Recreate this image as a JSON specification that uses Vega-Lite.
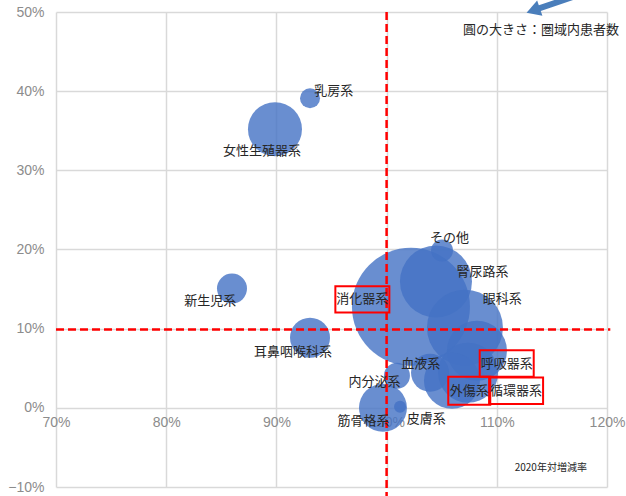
{
  "$schema": "https://vega.github.io/schema/vega-lite/v6.json",
  "width": 551,
  "height": 475,
  "autosize": {"type": "none"},
  "padding": {"left": 56, "top": 12, "right": 19, "bottom": 9},
  "background": "white",
  "config": {
    "view": {"stroke": null},
    "axis": {
      "grid": true,
      "gridColor": "#d9d9d9",
      "gridWidth": 1.5,
      "domain": false,
      "ticks": false,
      "labelFlush": false,
      "labelFont": "Liberation Sans",
      "labelFontSize": 14,
      "labelColor": "#8c8c8c",
      "title": null
    },
    "text": {"font": "Noto Sans CJK JP"}
  },
  "datasets": {
    "bubbles": [
      {"name": "乳房系", "growth": 0.9305, "share": 0.391, "patients": 100, "labelX": 0.952, "labelY": 0.400, "boxed": false},
      {"name": "女性生殖器系", "growth": 0.8987, "share": 0.352, "patients": 729, "labelX": 0.887, "labelY": 0.325, "boxed": false},
      {"name": "新生児系", "growth": 0.8597, "share": 0.1506, "patients": 225, "labelX": 0.840, "labelY": 0.135, "boxed": false},
      {"name": "耳鼻咽喉科系", "growth": 0.9305, "share": 0.0886, "patients": 400, "labelX": 0.915, "labelY": 0.070, "boxed": false},
      {"name": "消化器系", "growth": 1.0221, "share": 0.1278, "patients": 3481, "labelX": 0.978, "labelY": 0.137, "boxed": true},
      {"name": "腎尿路系", "growth": 1.0448, "share": 0.1595, "patients": 1296, "labelX": 1.087, "labelY": 0.172, "boxed": false},
      {"name": "その他", "growth": 1.0503, "share": 0.1987, "patients": 121, "labelX": 1.057, "labelY": 0.214, "boxed": false},
      {"name": "眼科系", "growth": 1.0711, "share": 0.1013, "patients": 1444, "labelX": 1.105, "labelY": 0.138, "boxed": false},
      {"name": "呼吸器系", "growth": 1.082, "share": 0.0722, "patients": 900, "labelX": 1.109, "labelY": 0.056, "boxed": true},
      {"name": "循環器系", "growth": 1.0739, "share": 0.0443, "patients": 900, "labelX": 1.1175, "labelY": 0.0215, "boxed": true},
      {"name": "外傷系", "growth": 1.0593, "share": 0.0342, "patients": 784, "labelX": 1.075, "labelY": 0.0215, "boxed": true},
      {"name": "血液系", "growth": 1.0394, "share": 0.0443, "patients": 361, "labelX": 1.031, "labelY": 0.056, "boxed": false},
      {"name": "内分泌系", "growth": 1.0094, "share": 0.0405, "patients": 169, "labelX": 0.989, "labelY": 0.033, "boxed": false},
      {"name": "筋骨格系", "growth": 0.9967, "share": 0.0, "patients": 576, "labelX": 0.979, "labelY": -0.0165, "boxed": false},
      {"name": "皮膚系", "growth": 1.0122, "share": 0.0013, "patients": 36, "labelX": 1.036, "labelY": -0.014, "boxed": false}
    ],
    "notes": [
      {"text": "圓の大きさ：圏域内患者数", "x": 1.0693, "y": 0.477, "kind": "size"},
      {"text": "2020年対増減率", "x": 1.149, "y": -0.076, "kind": "axis"}
    ],
    "refs": [
      {"x": 1.0, "x2": 1.0, "y": 0.5, "y2": -0.112},
      {"x": 0.7, "x2": 1.203, "y": 0.099, "y2": 0.099}
    ],
    "arrow": [
      {"x": 1.133, "y": 0.502, "x2": 1.171, "y2": 0.520}
    ]
  },
  "layer": [
    {
      "data": {"name": "bubbles"},
      "mark": {"type": "circle", "color": "#4472C4", "opacity": 0.8, "clip": false},
      "encoding": {
        "x": {"field": "growth", "type": "quantitative",
              "scale": {"domain": [0.7, 1.2], "nice": false, "zero": false},
              "axis": {"format": ".0%", "values": [0.7, 0.8, 0.9, 1.0, 1.1, 1.2], "offset": -80, "labelPadding": 8}},
        "y": {"field": "share", "type": "quantitative",
              "scale": {"domain": [-0.1, 0.5], "nice": false, "zero": false},
              "axis": {"format": ".0%", "values": [-0.1, 0, 0.1, 0.2, 0.3, 0.4, 0.5], "labelPadding": 12}},
        "size": {"field": "patients", "type": "quantitative",
                 "scale": {"type": "linear", "domain": [0, 3481], "range": [0, 13924], "zero": true},
                 "legend": null}
      }
    },
    {
      "data": {"name": "refs"},
      "mark": {"type": "rule", "color": "#ff0000", "strokeWidth": 2.5, "strokeDash": [8, 4], "clip": false},
      "encoding": {
        "x": {"field": "x", "type": "quantitative"},
        "x2": {"field": "x2"},
        "y": {"field": "y", "type": "quantitative"},
        "y2": {"field": "y2"}
      }
    },
    {
      "data": {"name": "arrow"},
      "mark": {"type": "rule", "color": "#4a7ebb", "strokeWidth": 6, "clip": false},
      "encoding": {
        "x": {"field": "x", "type": "quantitative"},
        "x2": {"field": "x2"},
        "y": {"field": "y", "type": "quantitative"},
        "y2": {"field": "y2"}
      }
    },
    {
      "data": {"name": "arrow"},
      "mark": {"type": "point", "shape": "triangle-left", "filled": true, "color": "#4a7ebb", "opacity": 1, "size": 260, "angle": 341, "clip": false},
      "encoding": {
        "x": {"field": "x", "type": "quantitative"},
        "y": {"field": "y", "type": "quantitative"}
      }
    },
    {
      "data": {"name": "bubbles"},
      "transform": [{"filter": "datum.boxed && length(datum.name) == 4"}],
      "mark": {"type": "point", "shape": "M-1,-0.49H1V0.49H-1Z", "filled": false, "color": "#ff0000", "strokeWidth": 2, "size": 2916, "opacity": 1, "clip": false},
      "encoding": {
        "x": {"field": "labelX", "type": "quantitative"},
        "y": {"field": "labelY", "type": "quantitative"}
      }
    },
    {
      "data": {"name": "bubbles"},
      "transform": [{"filter": "datum.boxed && length(datum.name) == 3"}],
      "mark": {"type": "point", "shape": "M-1,-0.667H1V0.667H-1Z", "filled": false, "color": "#ff0000", "strokeWidth": 2, "size": 1764, "opacity": 1, "clip": false},
      "encoding": {
        "x": {"field": "labelX", "type": "quantitative"},
        "y": {"field": "labelY", "type": "quantitative"}
      }
    },
    {
      "data": {"name": "bubbles"},
      "mark": {"type": "text", "fontSize": 13, "color": "#262626", "align": "center", "baseline": "middle", "clip": false},
      "encoding": {
        "x": {"field": "labelX", "type": "quantitative"},
        "y": {"field": "labelY", "type": "quantitative"},
        "text": {"field": "name"}
      }
    },
    {
      "data": {"name": "notes"},
      "transform": [{"filter": "datum.kind == 'size'"}],
      "mark": {"type": "text", "fontSize": 13, "color": "#262626", "align": "left", "baseline": "middle", "clip": false},
      "encoding": {
        "x": {"field": "x", "type": "quantitative"},
        "y": {"field": "y", "type": "quantitative"},
        "text": {"field": "text"}
      }
    },
    {
      "data": {"name": "notes"},
      "transform": [{"filter": "datum.kind == 'axis'"}],
      "mark": {"type": "text", "fontSize": 10, "color": "#262626", "align": "center", "baseline": "middle", "clip": false},
      "encoding": {
        "x": {"field": "x", "type": "quantitative"},
        "y": {"field": "y", "type": "quantitative"},
        "text": {"field": "text"}
      }
    }
  ]
}
